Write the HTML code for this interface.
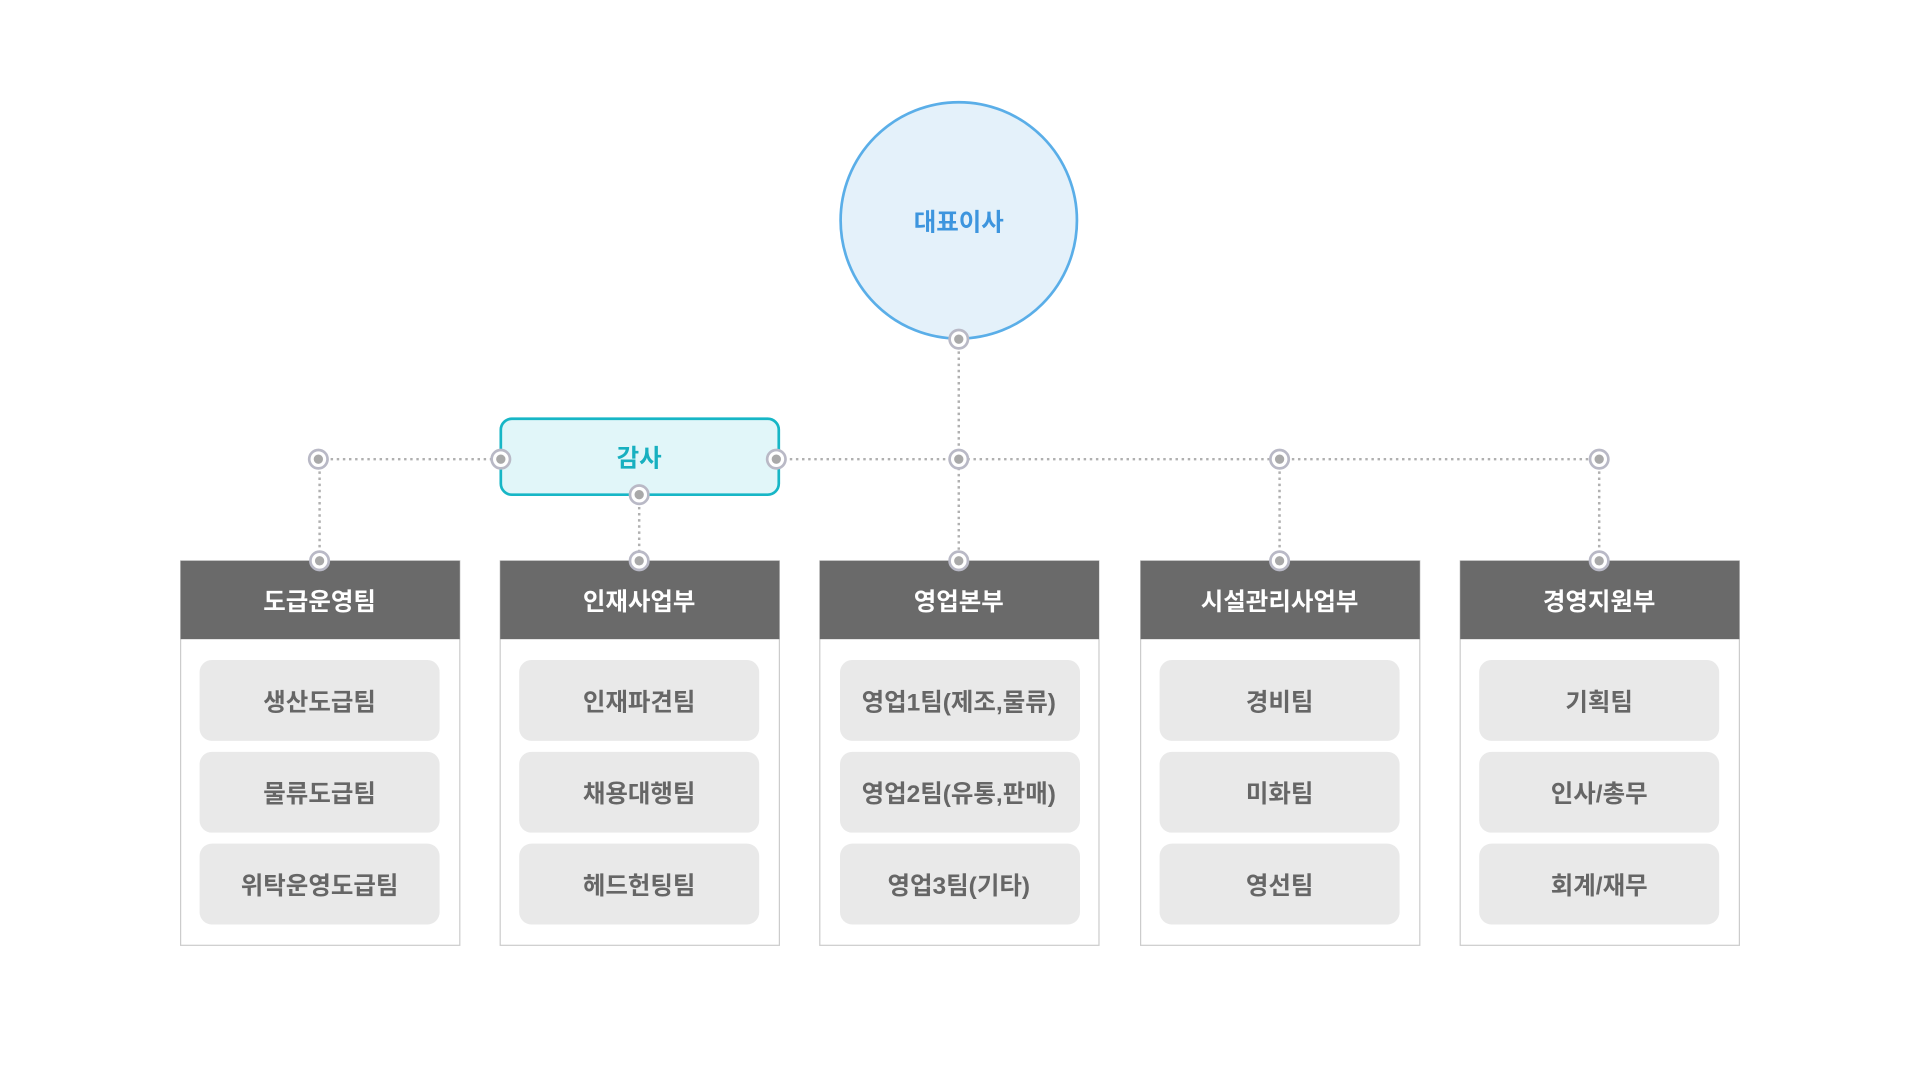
<!DOCTYPE html>
<html><head><meta charset="utf-8"><style>
html,body{margin:0;padding:0;background:#fff;width:1920px;height:1080px;overflow:hidden}
svg{display:block}
text{font-family:"Liberation Sans","Noto Sans CJK KR",sans-serif;font-weight:bold;text-anchor:middle;dominant-baseline:central}
</style></head><body>
<svg width="1920" height="1080" viewBox="0 0 1568 882" xmlns="http://www.w3.org/2000/svg">
<defs>
<g id="dot"><circle r="7.5" fill="#fff" stroke="#b9b9c6" stroke-width="2.2"/><circle r="3.8" fill="#a9a9a9"/></g>
</defs>
<g stroke="#b0b0b0" stroke-width="2" stroke-dasharray="2 3" fill="none">
<line x1="260" y1="375" x2="1306" y2="375"/>
<line x1="783" y1="277" x2="783" y2="458"/>
<line x1="261" y1="375" x2="261" y2="458"/>
<line x1="522" y1="404" x2="522" y2="458"/>
<line x1="1045" y1="375" x2="1045" y2="458"/>
<line x1="1306" y1="375" x2="1306" y2="458"/>
</g>
<circle cx="783" cy="180" r="96.5" fill="#e4f1fa" stroke="#5aaee8" stroke-width="2.2"/>
<text x="783" y="182" font-size="20" fill="#3d95de">대표이사</text>
<rect x="409" y="342" width="227" height="62" rx="9" fill="#e1f6f9" stroke="#17b6c6" stroke-width="2.2"/>
<text x="522" y="375" font-size="20" fill="#17b0c0">감사</text>
<g>
<rect x="147.5" y="458" width="228" height="314" fill="#fff" stroke="#cccccc"/>
<rect x="147.5" y="458" width="228" height="64" fill="#6a6a6a"/>
<text x="261" y="492" font-size="20" fill="#fff">도급운영팀</text>
<rect x="163" y="539" width="196" height="66" rx="10" fill="#e9e9e9"/><text x="261" y="574" font-size="20" fill="#666">생산도급팀</text>
<rect x="163" y="614" width="196" height="66" rx="10" fill="#e9e9e9"/><text x="261" y="649" font-size="20" fill="#666">물류도급팀</text>
<rect x="163" y="689" width="196" height="66" rx="10" fill="#e9e9e9"/><text x="261" y="724" font-size="20" fill="#666">위탁운영도급팀</text>
</g>
<g>
<rect x="408.5" y="458" width="228" height="314" fill="#fff" stroke="#cccccc"/>
<rect x="408.5" y="458" width="228" height="64" fill="#6a6a6a"/>
<text x="522" y="492" font-size="20" fill="#fff">인재사업부</text>
<rect x="424" y="539" width="196" height="66" rx="10" fill="#e9e9e9"/><text x="522" y="574" font-size="20" fill="#666">인재파견팀</text>
<rect x="424" y="614" width="196" height="66" rx="10" fill="#e9e9e9"/><text x="522" y="649" font-size="20" fill="#666">채용대행팀</text>
<rect x="424" y="689" width="196" height="66" rx="10" fill="#e9e9e9"/><text x="522" y="724" font-size="20" fill="#666">헤드헌팅팀</text>
</g>
<g>
<rect x="669.5" y="458" width="228" height="314" fill="#fff" stroke="#cccccc"/>
<rect x="669.5" y="458" width="228" height="64" fill="#6a6a6a"/>
<text x="783" y="492" font-size="20" fill="#fff">영업본부</text>
<rect x="686" y="539" width="196" height="66" rx="10" fill="#e9e9e9"/><text x="783" y="574" font-size="20" fill="#666">영업1팀(제조,물류)</text>
<rect x="686" y="614" width="196" height="66" rx="10" fill="#e9e9e9"/><text x="783" y="649" font-size="20" fill="#666">영업2팀(유통,판매)</text>
<rect x="686" y="689" width="196" height="66" rx="10" fill="#e9e9e9"/><text x="783" y="724" font-size="20" fill="#666">영업3팀(기타)</text>
</g>
<g>
<rect x="931.5" y="458" width="228" height="314" fill="#fff" stroke="#cccccc"/>
<rect x="931.5" y="458" width="228" height="64" fill="#6a6a6a"/>
<text x="1045" y="492" font-size="20" fill="#fff">시설관리사업부</text>
<rect x="947" y="539" width="196" height="66" rx="10" fill="#e9e9e9"/><text x="1045" y="574" font-size="20" fill="#666">경비팀</text>
<rect x="947" y="614" width="196" height="66" rx="10" fill="#e9e9e9"/><text x="1045" y="649" font-size="20" fill="#666">미화팀</text>
<rect x="947" y="689" width="196" height="66" rx="10" fill="#e9e9e9"/><text x="1045" y="724" font-size="20" fill="#666">영선팀</text>
</g>
<g>
<rect x="1192.5" y="458" width="228" height="314" fill="#fff" stroke="#cccccc"/>
<rect x="1192.5" y="458" width="228" height="64" fill="#6a6a6a"/>
<text x="1306" y="492" font-size="20" fill="#fff">경영지원부</text>
<rect x="1208" y="539" width="196" height="66" rx="10" fill="#e9e9e9"/><text x="1306" y="574" font-size="20" fill="#666">기획팀</text>
<rect x="1208" y="614" width="196" height="66" rx="10" fill="#e9e9e9"/><text x="1306" y="649" font-size="20" fill="#666">인사/총무</text>
<rect x="1208" y="689" width="196" height="66" rx="10" fill="#e9e9e9"/><text x="1306" y="724" font-size="20" fill="#666">회계/재무</text>
</g>
<use href="#dot" x="783" y="277"/>
<use href="#dot" x="260" y="375"/>
<use href="#dot" x="409" y="375"/>
<use href="#dot" x="634" y="375"/>
<use href="#dot" x="783" y="375"/>
<use href="#dot" x="1045" y="375"/>
<use href="#dot" x="1306" y="375"/>
<use href="#dot" x="522" y="404"/>
<use href="#dot" x="261" y="458"/>
<use href="#dot" x="522" y="458"/>
<use href="#dot" x="783" y="458"/>
<use href="#dot" x="1045" y="458"/>
<use href="#dot" x="1306" y="458"/>
</svg>
</body></html>
